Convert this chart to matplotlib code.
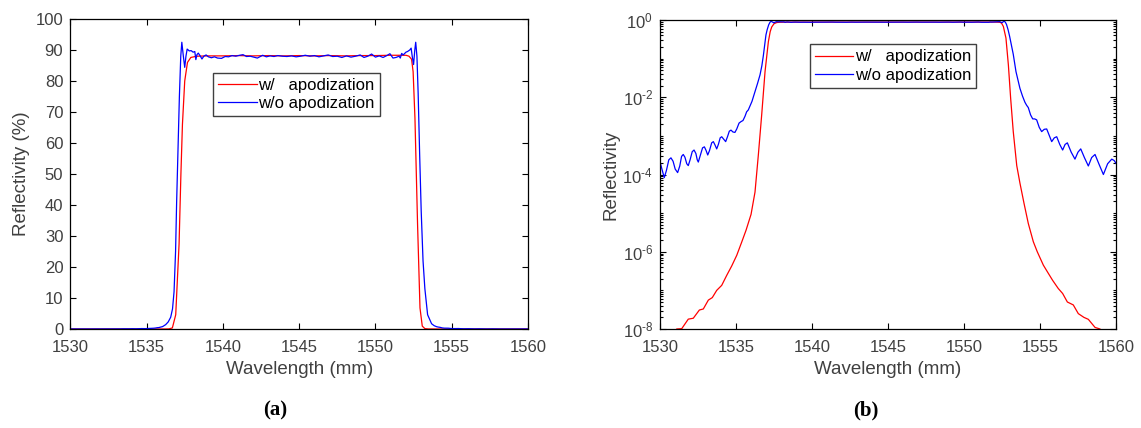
import numpy as np
import matplotlib
matplotlib.use("Agg")
import matplotlib.pyplot as plt
from matplotlib import ticker

plt.rcParams['font.family'] = ['Liberation Sans', 'DejaVu Sans']
plt.rcParams['mathtext.fontset'] = 'custom'
plt.rcParams['mathtext.rm'] = 'Liberation Sans'
plt.rcParams['mathtext.default'] = 'regular'
plt.rcParams['axes.unicode_minus'] = False

# reflectivity (fraction, 1 = 100 %)
blue_wl = [1530.00, 1530.12, 1530.28, 1530.42, 1530.58, 1530.72, 1530.86, 1531.00,
           1531.16, 1531.30, 1531.42, 1531.53, 1531.64, 1531.76, 1531.86, 1531.98,
           1532.12, 1532.24, 1532.36, 1532.45, 1532.52, 1532.64, 1532.80, 1532.92,
           1533.03, 1533.14, 1533.26, 1533.40, 1533.51, 1533.62, 1533.73, 1533.84,
           1533.96, 1534.06, 1534.18, 1534.32, 1534.44, 1534.56, 1534.67, 1534.80,
           1534.93, 1535.05, 1535.20, 1535.33, 1535.46, 1535.59, 1535.70, 1535.81,
           1536.05, 1536.25, 1536.42, 1536.58, 1536.70, 1536.80, 1536.90, 1536.97,
           1537.05, 1537.15, 1537.24, 1537.31, 1537.41, 1537.50, 1537.58, 1537.66,
           1537.80, 1537.92, 1538.05, 1538.16, 1538.23, 1538.30, 1538.39, 1538.50,
           1538.63, 1538.75, 1538.90, 1539.05, 1539.25, 1539.45, 1539.65, 1539.91,
           1540.15, 1540.38, 1540.60, 1540.85, 1541.10, 1541.32, 1541.55, 1541.79,
           1542.02, 1542.26, 1542.45, 1542.61, 1542.85, 1543.10, 1543.35, 1543.60,
           1543.90, 1544.20, 1544.50, 1544.80, 1545.10, 1545.40, 1545.70, 1546.00,
           1546.30, 1546.60, 1546.90, 1547.20, 1547.50, 1547.80, 1548.10, 1548.40,
           1548.70, 1549.00, 1549.25, 1549.50, 1549.75, 1550.00, 1550.25, 1550.50,
           1550.75, 1550.95, 1551.15, 1551.35, 1551.55, 1551.63, 1551.72, 1551.82,
           1552.00, 1552.10, 1552.25, 1552.34, 1552.41, 1552.50, 1552.58, 1552.64,
           1552.72, 1552.80, 1552.90, 1553.00, 1553.12, 1553.24, 1553.42, 1553.68,
           1553.85, 1554.01, 1554.12, 1554.23, 1554.38, 1554.52, 1554.65, 1554.78,
           1554.95, 1555.11, 1555.28, 1555.44, 1555.60, 1555.77, 1555.94, 1556.10,
           1556.30, 1556.49, 1556.65, 1556.80, 1557.05, 1557.30, 1557.50, 1557.68,
           1557.92, 1558.18, 1558.40, 1558.62, 1558.90, 1559.17, 1559.45, 1559.72,
           1559.88, 1560.00]
blue_r = [2.14e-4, 1.41e-4, 8.3e-5, 1.26e-4, 2.4e-4, 2.7e-4, 2.2e-4, 1.38e-4,
          1.12e-4, 1.66e-4, 2.95e-4, 3.3e-4, 2.8e-4, 1.9e-4, 1.7e-4, 2.4e-4,
          3.9e-4, 4.3e-4, 3.5e-4, 2.4e-4, 2.1e-4, 3.0e-4, 4.9e-4, 5.2e-4,
          4.2e-4, 3.2e-4, 4.2e-4, 6.6e-4, 7.1e-4, 5.8e-4, 4.6e-4, 6.0e-4,
          8.9e-4, 9.5e-4, 8.3e-4, 7.1e-4, 9.5e-4, 1.32e-3, 1.41e-3, 1.26e-3,
          1.23e-3, 1.51e-3, 2.14e-3, 2.34e-3, 2.5e-3, 3.2e-3, 4.2e-3, 4.7e-3,
          7.8e-3, 1.4e-2, 2.3e-2, 3.8e-2, 6.5e-2, 0.12, 0.25, 0.41,
          0.56, 0.75, 0.88, 0.925, 0.880, 0.844, 0.880, 0.903,
          0.897, 0.898, 0.893, 0.895, 0.869, 0.885, 0.890, 0.882,
          0.871, 0.880, 0.884, 0.878, 0.875, 0.878, 0.874, 0.873,
          0.879, 0.878, 0.882, 0.880, 0.883, 0.885, 0.879, 0.880,
          0.877, 0.874, 0.879, 0.883, 0.878, 0.881, 0.879, 0.882,
          0.880, 0.879, 0.881, 0.878, 0.880, 0.883, 0.880, 0.882,
          0.878, 0.881, 0.884, 0.879, 0.880, 0.876, 0.881, 0.877,
          0.880, 0.884, 0.876, 0.880, 0.887, 0.877, 0.881, 0.876,
          0.882, 0.888, 0.874, 0.876, 0.880, 0.874, 0.889, 0.884,
          0.893, 0.895, 0.900, 0.906, 0.880, 0.853, 0.900, 0.925,
          0.880, 0.760, 0.560, 0.380, 0.220, 0.130, 0.046, 1.7e-2,
          1.07e-2, 7.4e-3, 6.2e-3, 5.4e-3, 3.5e-3, 2.75e-3, 2.75e-3, 2.6e-3,
          1.66e-3, 1.29e-3, 1.48e-3, 1.51e-3, 1.05e-3, 7.1e-4, 8.9e-4, 9.5e-4,
          6.0e-4, 4.3e-4, 6.0e-4, 6.6e-4, 3.8e-4, 2.5e-4, 3.8e-4, 4.6e-4,
          2.75e-4, 1.66e-4, 2.75e-4, 3.3e-4, 1.78e-4, 1.0e-4, 1.9e-4, 2.5e-4,
          2.3e-4, 1.95e-4]

red_wl = [1530.00, 1530.80, 1531.10, 1531.43, 1531.86, 1532.19, 1532.59, 1532.85,
          1533.18, 1533.44, 1533.73, 1534.06, 1534.39, 1534.72, 1535.05, 1535.38,
          1535.66, 1535.99, 1536.25, 1536.47, 1536.69, 1536.91, 1537.13, 1537.25,
          1537.35, 1537.50, 1537.68, 1537.90, 1538.30, 1539.00, 1540.00, 1541.00,
          1542.00, 1543.00, 1544.00, 1545.00, 1546.00, 1547.00, 1548.00, 1549.00,
          1550.00, 1551.00, 1552.00, 1552.20, 1552.37, 1552.47, 1552.59, 1552.76,
          1552.92, 1553.07, 1553.24, 1553.47, 1553.68, 1553.95, 1554.23, 1554.56,
          1554.82, 1555.22, 1555.55, 1555.83, 1556.20, 1556.49, 1556.80, 1557.19,
          1557.52, 1557.89, 1558.18, 1558.62, 1558.95, 1559.20, 1560.00]
red_r = [2.0e-9, 7.0e-9, 1.0e-8, 1.02e-8, 1.8e-8, 1.9e-8, 3.1e-8, 3.3e-8,
         5.6e-8, 6.5e-8, 1.0e-7, 1.35e-7, 2.45e-7, 4.3e-7, 8.1e-7, 1.8e-6,
         3.6e-6, 9.3e-6, 3.5e-5, 3.2e-4, 3.5e-3, 4.6e-2, 0.275, 0.50,
         0.66, 0.80, 0.860, 0.876, 0.880, 0.881, 0.881, 0.882,
         0.881, 0.882, 0.881, 0.882, 0.881, 0.882, 0.881, 0.882,
         0.882, 0.883, 0.883, 0.880, 0.870, 0.830, 0.680, 0.340,
         6.8e-2, 9.3e-3, 1.3e-3, 1.7e-4, 6.0e-5, 1.78e-5, 5.4e-6, 1.82e-6,
         1.0e-6, 4.5e-7, 2.75e-7, 1.82e-7, 1.12e-7, 8.3e-8, 5.0e-8, 4.2e-8,
         2.5e-8, 2.0e-8, 1.78e-8, 1.1e-8, 1.0e-8, 6.0e-9, 2.0e-9]

labels = ["w/   apodization", "w/o apodization"]
xticks = [1530, 1535, 1540, 1545, 1550, 1555, 1560]
log_ticks = [1e-8, 1e-6, 1e-4, 1e-2, 1]
grey = "#404040"


def pow10_label(v, pos):
    # matlab style 10^-2 with a plain hyphen
    n = int(round(np.log10(v)))
    if n < 0:
        return r"$10^{\text{-}%d}$" % (-n)
    return r"$10^{%d}$" % n


fig = plt.figure(figsize=(11.41, 4.28), dpi=100)
ax1 = fig.add_axes([70.3 / 1141, 99 / 428, 457.7 / 1141, 310 / 428])
ax2 = fig.add_axes([660 / 1141, 99 / 428, 456 / 1141, 309 / 428])

red_wl = np.array(red_wl); red_r = np.array(red_r)
blue_wl = np.array(blue_wl); blue_r = np.array(blue_r)

ax1.plot(red_wl, red_r * 100, color="#ff0000", lw=0.9, label=labels[0])
ax1.plot(blue_wl, blue_r * 100, color="#0000ff", lw=0.9, label=labels[1])
ax1.set_xlim(1530, 1560)
ax1.set_ylim(0, 100)
ax1.set_yticks(range(0, 101, 10))
ax1.set_ylabel("Reflectivity (%)", fontsize=13.5, color=grey, labelpad=4)

ax2.semilogy(red_wl, red_r, color="#ff0000", lw=0.9, label=labels[0])
ax2.semilogy(blue_wl, blue_r, color="#0000ff", lw=0.9, label=labels[1])
ax2.set_xlim(1530, 1560)
ax2.set_ylim(1e-8, 1)
ax2.yaxis.set_major_locator(ticker.FixedLocator(log_ticks))
ax2.yaxis.set_major_formatter(ticker.FuncFormatter(pow10_label))
ax2.yaxis.set_minor_locator(ticker.LogLocator(base=10, subs=np.arange(1, 10), numticks=100))
ax2.yaxis.set_minor_formatter(ticker.NullFormatter())
ax2.set_ylabel("Reflectivity", fontsize=13.5, color=grey, labelpad=2)

for ax in (ax1, ax2):
    ax.set_xticks(xticks)
    ax.set_xlabel("Wavelength (mm)", fontsize=13.5, color=grey, labelpad=4.5)
    ax.tick_params(which="both", direction="in", top=True, right=True, width=0.8)
    ax.tick_params(which="major", length=4, labelsize=12, labelcolor=grey, pad=5)
    ax.tick_params(axis="x", which="major", pad=8)
    ax.tick_params(which="minor", length=2)
    for s in ax.spines.values():
        s.set_linewidth(0.9)
        s.set_color("black")

leg_pos = [(0.3125, 0.827), (0.328, 0.921)]
for ax, pos in zip((ax1, ax2), leg_pos):
    leg = ax.legend(loc="upper left", bbox_to_anchor=pos, borderaxespad=0,
                    fontsize=12, fancybox=False, framealpha=1, edgecolor="#404040",
                    handlelength=2.3, handletextpad=0.1, borderpad=0.3,
                    labelspacing=0.2)
    leg.get_frame().set_linewidth(1.0)

fig.text(275 / 1141, 1 - 410 / 428, "(a)", ha="center", va="center",
         fontsize=15, family="Liberation Serif", fontweight="bold")
fig.text(866 / 1141, 1 - 410 / 428, "(b)", ha="center", va="center",
         fontsize=15, family="Liberation Serif", fontweight="bold")

fig.savefig("out.png", dpi=100)
